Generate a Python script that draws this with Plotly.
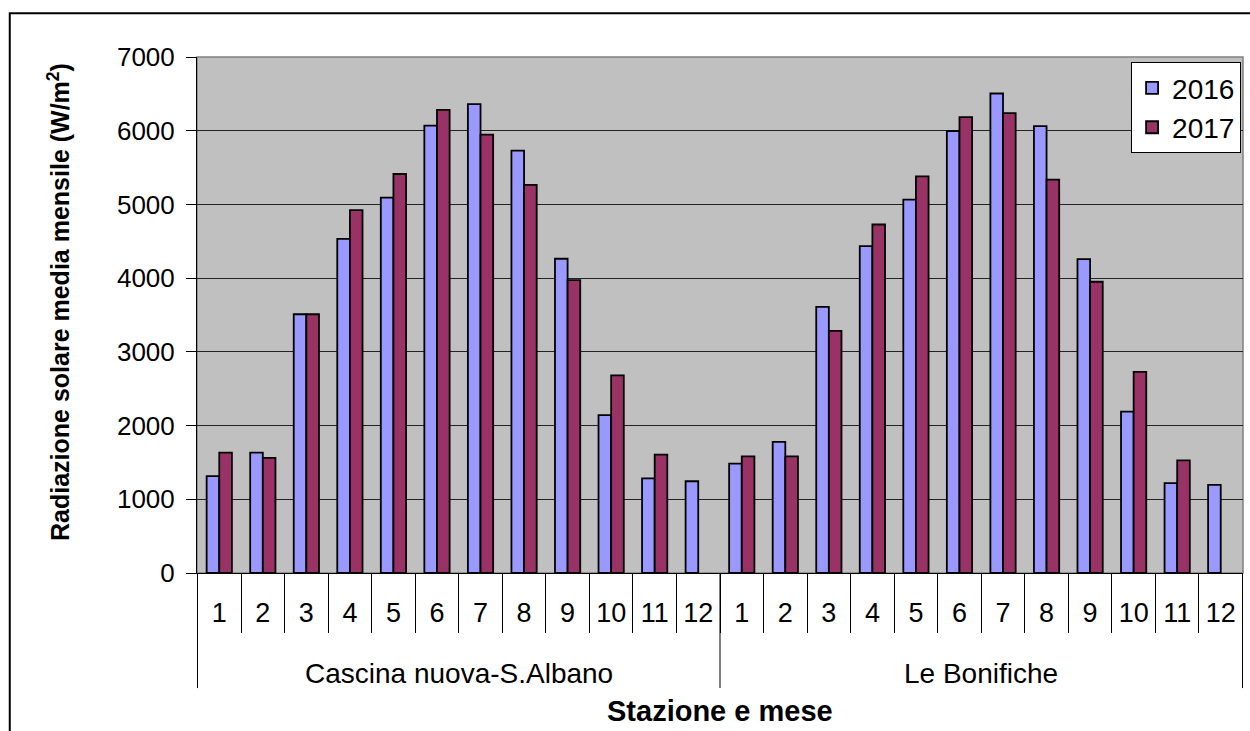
import plotly.graph_objects as go

stations = ["Cascina nuova-S.Albano", "Le Bonifiche"]
months = ["1", "2", "3", "4", "5", "6", "7", "8", "9", "10", "11", "12"]

cascina_2016 = [1313, 1633, 3510, 4533, 5093, 6068, 6360, 5729, 4263, 2143, 1285, 1245]
cascina_2017 = [1633, 1561, 3510, 4922, 5413, 6284, 5946, 5264, 3974, 2680, 1606, None]
bonifiche_2016 = [1484, 1778, 3609, 4434, 5066, 5995, 6505, 6062, 4258, 2188, 1218, 1196]
bonifiche_2017 = [1583, 1583, 3284, 4728, 5381, 6184, 6238, 5337, 3951, 2729, 1529, None]

# one unique category per station/month, labelled with the month only
keys = [f"{s}|{m}" for s in stations for m in months]
labels = months * len(stations)

y2016 = cascina_2016 + bonifiche_2016
y2017 = cascina_2017 + bonifiche_2017

FONT = "Liberation Sans, Arial, sans-serif"

fig = go.Figure()
fig.add_trace(
    go.Bar(
        x=keys,
        y=y2016,
        name="2016",
        marker=dict(color="#9999FF", line=dict(color="black", width=1.8)),
    )
)
fig.add_trace(
    go.Bar(
        x=keys,
        y=y2017,
        name="2017",
        marker=dict(color="#993366", line=dict(color="black", width=1.8)),
    )
)

n = len(months)
# station labels and separators below the month labels
for i, s in enumerate(stations):
    fig.add_annotation(
        x=i * n + (n - 1) / 2,
        y=-0.194,
        xref="x",
        yref="paper",
        text=s,
        showarrow=False,
        font=dict(size=28, color="black", family=FONT),
        yanchor="middle",
    )
for i in range(len(stations) + 1):
    fig.add_shape(
        type="line",
        xref="x",
        yref="paper",
        x0=i * n - 0.5,
        x1=i * n - 0.5,
        y0=0,
        y1=-0.223,
        line=dict(color="black", width=1),
    )

fig.add_annotation(
    x=0.5,
    y=-0.267,
    xref="paper",
    yref="paper",
    text="<b>Stazione e mese</b>",
    showarrow=False,
    font=dict(size=29, color="black", family=FONT),
    yanchor="middle",
)
fig.add_annotation(
    x=-0.132,
    y=0.525,
    xref="paper",
    yref="paper",
    text="<b>Radiazione solare media mensile (W/m<sup>2</sup>)</b>",
    textangle=-90,
    showarrow=False,
    font=dict(size=25, color="black", family=FONT),
    xanchor="center",
    yanchor="middle",
)

# plot area border (grey) and outer chart frame
fig.add_shape(
    type="rect", xref="paper", yref="paper", x0=0, x1=1, y0=0, y1=1,
    line=dict(color="#808080", width=1.5), layer="below",
)
fig.add_shape(
    type="rect", xref="paper", yref="paper", x0=-0.179, x1=1.02, y0=-0.36, y1=1.085,
    line=dict(color="black", width=2),
)

fig.update_layout(
    width=1250,
    height=731,
    margin=dict(l=197, r=7, t=57, b=158),
    plot_bgcolor="#C0C0C0",
    paper_bgcolor="white",
    barmode="group",
    bargap=0.42,
    bargroupgap=0,
    font=dict(family=FONT, color="black"),
    legend=dict(
        x=0.893,
        y=0.99,
        xanchor="left",
        yanchor="top",
        bgcolor="white",
        bordercolor="black",
        borderwidth=1,
        font=dict(size=28, family=FONT),
        itemwidth=30,
    ),
)
fig.update_xaxes(
    type="category",
    tickvals=keys,
    ticktext=labels,
    ticks="outside",
    tickson="boundaries",
    ticklen=59,
    tickcolor="black",
    ticklabelstandoff=16,
    tickfont=dict(size=27, family=FONT),
    showline=True,
    linecolor="black",
    linewidth=1,
    showgrid=False,
    zeroline=False,
)
fig.update_yaxes(
    range=[0, 7000],
    dtick=1000,
    ticks="outside",
    ticklen=10,
    tickcolor="black",
    ticklabelstandoff=6,
    tickfont=dict(size=26, family=FONT),
    showline=True,
    linecolor="black",
    linewidth=1,
    gridcolor="#222222",
    gridwidth=1,
    zeroline=False,
)

# drop the default page margin so the figure sits at the window's corner
fig.write_html(
    "out.html",
    config={"displayModeBar": False},
    post_script="document.body.style.margin='0';",
)
